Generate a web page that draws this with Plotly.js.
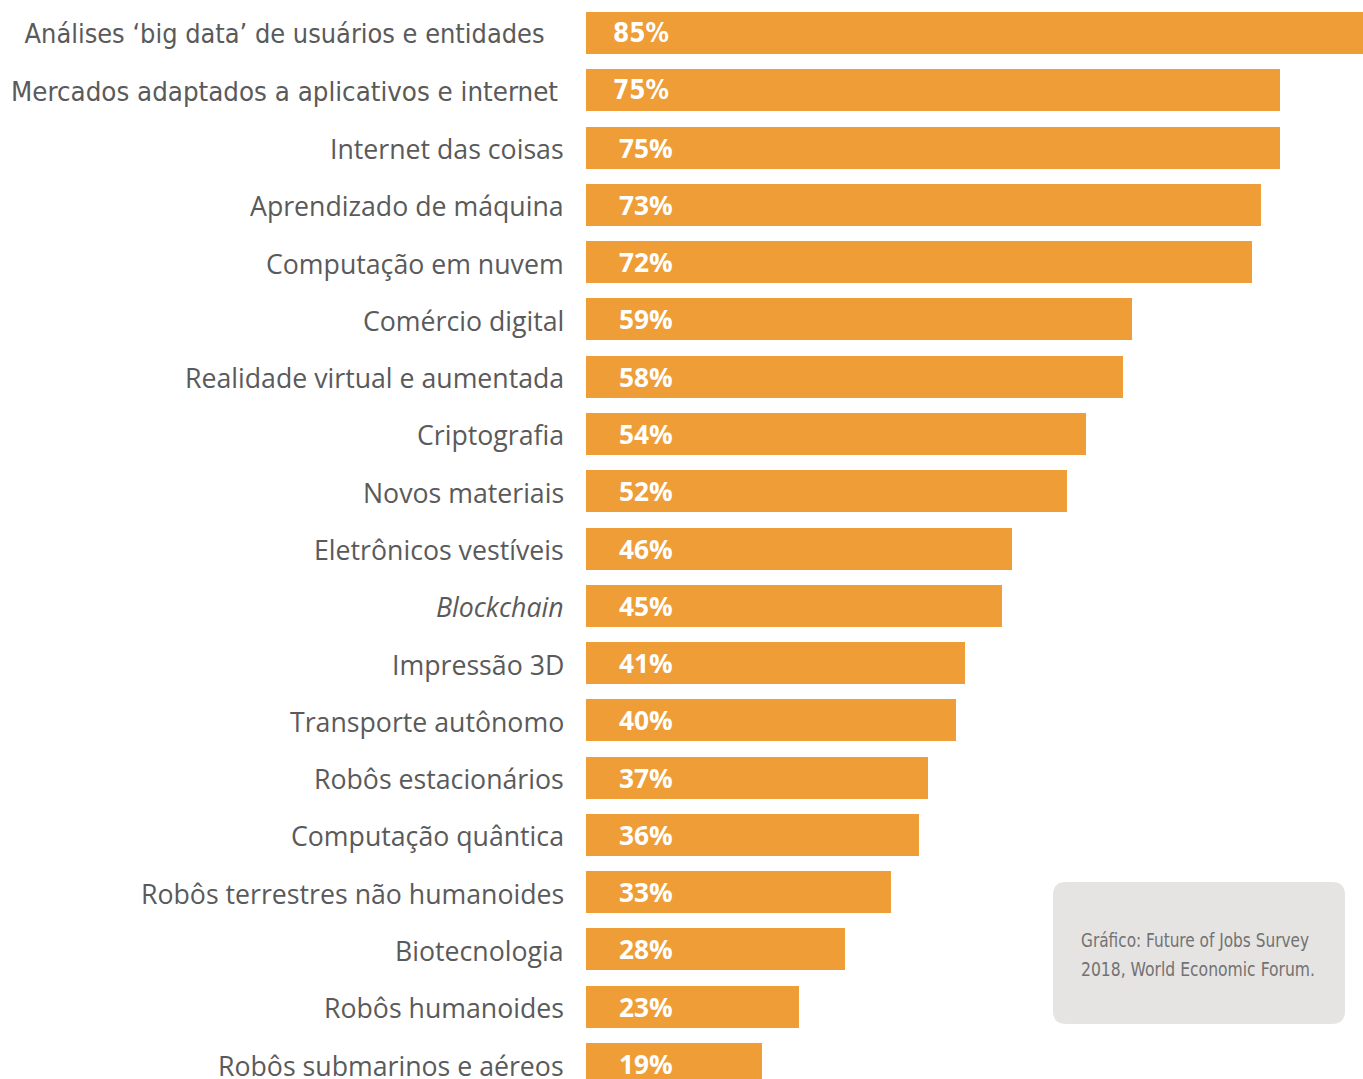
<!DOCTYPE html>
<html>
<head>
<meta charset="utf-8">
<script src="https://cdn.plot.ly/plotly-3.0.1.min.js"></script>
<style>
html,body{margin:0;padding:0;background:#fff;}
#chart{width:1363px;height:1079px;}
</style>
</head>
<body>
<div id="chart"></div>
<script>
// ---- data ----
const categories = [
  "Análises ‘big data’ de usuários e entidades",
  "Mercados adaptados a aplicativos e internet",
  "Internet das coisas",
  "Aprendizado de máquina",
  "Computação em nuvem",
  "Comércio digital",
  "Realidade virtual e aumentada",
  "Criptografia",
  "Novos materiais",
  "Eletrônicos vestíveis",
  "<i>Blockchain</i>",
  "Impressão 3D",
  "Transporte autônomo",
  "Robôs estacionários",
  "Computação quântica",
  "Robôs terrestres não humanoides",
  "Biotecnologia",
  "Robôs humanoides",
  "Robôs submarinos e aéreos"
];
const values = [85, 75, 75, 73, 72, 59, 58, 54, 52, 46, 45, 41, 40, 37, 36, 33, 28, 23, 19];
const valueLabels = ["85%","75%","75%","73%","72%","59%","58%","54%","52%","46%","45%","41%","40%","37%","36%","33%","28%","23%","19%"];
const sourceLines = ["Gráfico: Future of Jobs Survey", "2018, World Economic Forum."];

// ---- layout constants ----
const W = 1363, H = 1079, ML = 586;
const PW = W - ML, PH = H;
const barColor = "#ee9d37";
const labelColor = "#5a5a5a";
const narrow = "'DejaVu Sans Condensed', 'Open Sans', sans-serif";
const openSans = "'Open Sans', sans-serif";

const idx = categories.map((c, i) => i);

const trace = {
  type: "bar",
  orientation: "h",
  y: idx,
  x: values,
  marker: {color: barColor, line: {width: 0}},
  width: 0.733,
  hoverinfo: "none"
};

const annotations = [];
categories.forEach((c, i) => {
  const condensed = i < 2;
  annotations.push({
    xref: "paper", yref: "y", x: 0, y: i,
    xanchor: "right", yanchor: "middle", align: "right",
    xshift: i === 0 ? -39 : (i === 1 ? -26 : -20),
    yshift: -1,
    text: c, showarrow: false,
    font: condensed ? {family: narrow, size: 27, color: labelColor}
                    : {family: openSans, size: 26.7, color: labelColor}
  });
  annotations.push({
    xref: "x", yref: "y", x: 0, y: i,
    xanchor: "left", yanchor: "middle", align: "left",
    xshift: condensed ? 25 : 31,
    text: "<b>" + valueLabels[i] + "</b>", showarrow: false,
    font: condensed ? {family: narrow, size: 26, color: "#ffffff"}
                    : {family: openSans, size: 26.3, color: "#ffffff"}
  });
});

// source note box
const px2x = p => (p - ML) / PW;
const py2y = p => 1 - p / PH;
const L = 1053, R = 1345, T = 882, B = 1024, r = 13;
const xL = px2x(L), xR = px2x(R), yT = py2y(T), yB = py2y(B);
const rx = r / PW, ry = r / PH;
const path = `M ${xL+rx},${yT} L ${xR-rx},${yT} Q ${xR},${yT} ${xR},${yT-ry} ` +
             `L ${xR},${yB+ry} Q ${xR},${yB} ${xR-rx},${yB} ` +
             `L ${xL+rx},${yB} Q ${xL},${yB} ${xL},${yB+ry} ` +
             `L ${xL},${yT-ry} Q ${xL},${yT} ${xL+rx},${yT} Z`;

const noteCenters = [940, 969];
sourceLines.forEach((t, k) => {
  annotations.push({
    xref: "paper", yref: "paper",
    x: px2x(1079), y: py2y(noteCenters[k]),
    xanchor: "left", yanchor: "middle", align: "left",
    text: t, showarrow: false,
    font: {family: narrow, size: 20, color: "#727272"}
  });
});

const layout = {
  width: W, height: H,
  margin: {l: ML, r: 0, t: 0, b: 0, pad: 0},
  paper_bgcolor: "#ffffff", plot_bgcolor: "#ffffff",
  showlegend: false,
  bargap: 0,
  xaxis: {range: [0, 84], showgrid: false, zeroline: false, showticklabels: false, showline: false, fixedrange: true},
  yaxis: {range: [18.261, -0.576], showgrid: false, zeroline: false, showticklabels: false, showline: false, fixedrange: true},
  shapes: [{type: "path", xref: "paper", yref: "paper", path: path, fillcolor: "#e5e4e2", line: {width: 0}, layer: "above"}],
  annotations: annotations
};

// target widths for the condensed texts (narrow typeface in the original)
const fitWidths = {};
fitWidths[categories[0]] = 520;
fitWidths[categories[1]] = 547;
fitWidths[sourceLines[0]] = 228;
fitWidths[sourceLines[1]] = 234;

Plotly.newPlot("chart", [trace], layout, {displayModeBar: false, staticPlot: true}).then(() => {
  document.querySelectorAll("#chart .annotation-text").forEach(el => {
    const w = fitWidths[el.textContent];
    if (w) {
      el.setAttribute("textLength", w);
      el.setAttribute("lengthAdjust", "spacingAndGlyphs");
    }
  });
});
</script>
</body>
</html>
